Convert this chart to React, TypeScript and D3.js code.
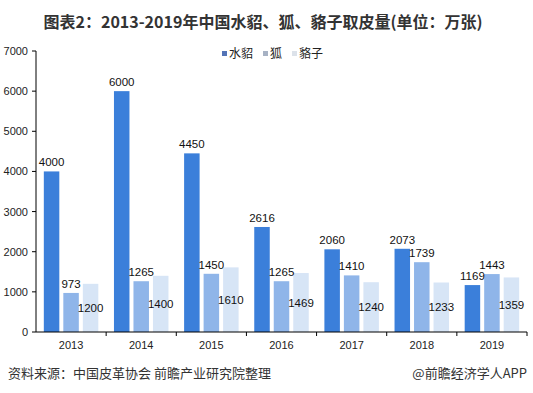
import React from "react";
import * as d3 from "d3";

const years = ["2013", "2014", "2015", "2016", "2017", "2018", "2019"];
const mink = [4000, 6000, 4450, 2616, 2060, 2073, 1169];
const fox = [973, 1265, 1450, 1265, 1410, 1739, 1443];
const raccoon = [1200, 1400, 1610, 1469, 1240, 1233, 1359];
const seriesNames = ["水貂", "狐", "貉子"];
const yTicks = [0, 1000, 2000, 3000, 4000, 5000, 6000, 7000];

const W = 533;
const H = 393;
const left = 36;
const right = 527;
const top = 51;
const bottom = 332;
const barColors = ["#3B7FDA", "#8FB5E9", "#D7E5F6"];
const legendColors = ["#5474B6", "#A7B2C4", "#DCE2EA"];
const numFont = "'Liberation Sans', Arial, sans-serif";
const cjkFont = "'Noto Sans CJK SC', 'Microsoft YaHei', sans-serif";

export default function App() {
  const x = d3.scaleBand<string>().domain(years).range([left, right]);
  const y = d3.scaleLinear().domain([0, 7000]).range([bottom, top]);
  const bw = 15.5;
  const off = [-19.5, 0, 19.5];
  const series = [mink, fox, raccoon];

  return (
    <svg width={W} height={H} style={{ position: "absolute", left: 0, top: 0, background: "#fff" }}>
      <text x={263} y={28} textAnchor="middle" fontFamily={cjkFont} fontWeight="bold" fontSize={16} fill="#333">
        图表2：2013-2019年中国水貂、狐、貉子取皮量(单位：万张)
      </text>
      {/* legend */}
      {seriesNames.map((n, i) => {
        const lx = [222, 263, 292][i];
        return (
          <g key={n}>
            <rect x={lx} y={51} width={5} height={5} fill={legendColors[i]} />
            <text x={lx + 7} y={58} fontFamily={cjkFont} fontSize={12} fill="#222">{n}</text>
          </g>
        );
      })}
      {/* bars */}
      {series.map((vals, si) =>
        vals.map((v, i) => {
          const cx = (x(years[i]) as number) + x.bandwidth() / 2 + off[si];
          return (
            <rect key={si + "-" + i} x={cx - bw / 2} y={y(v)} width={bw} height={bottom - y(v)} fill={barColors[si]} />
          );
        })
      )}
      {/* labels */}
      {series.map((vals, si) =>
        vals.map((v, i) => {
          const cx = (x(years[i]) as number) + x.bandwidth() / 2 + off[si];
          const ly = si === 2 ? (y(v) + bottom) / 2 + 4 : y(v) - 5;
          return (
            <text key={"l" + si + "-" + i} x={cx} y={ly} textAnchor="middle" fontFamily={numFont} fontSize={11.5} fill="#111">
              {v}
            </text>
          );
        })
      )}
      {/* y axis */}
      <line x1={left} x2={left} y1={top} y2={bottom} stroke="#000" strokeWidth={1} />
      {yTicks.map((t) => (
        <g key={t}>
          <line x1={left - 4} x2={left} y1={y(t)} y2={y(t)} stroke="#000" />
          <text x={left - 8} y={y(t) + 4} textAnchor="end" fontFamily={numFont} fontSize={11} fill="#222">{t}</text>
        </g>
      ))}
      {/* x axis */}
      <line x1={left} x2={right} y1={bottom} y2={bottom} stroke="#000" />
      {years.map((yr, i) => (
        <g key={yr}>
          <line x1={(x(yr) as number) + x.bandwidth()} x2={(x(yr) as number) + x.bandwidth()} y1={bottom} y2={bottom + 4} stroke="#000" />
          <text x={(x(yr) as number) + x.bandwidth() / 2} y={349} textAnchor="middle" fontFamily={numFont} fontSize={11} fill="#222">{yr}</text>
        </g>
      ))}
      {/* footer */}
      <text x={8} y={378} fontFamily={cjkFont} fontSize={13} fill="#333">资料来源：中国皮革协会 前瞻产业研究院整理</text>
      <text x={527} y={378} textAnchor="end" fontFamily={cjkFont} fontSize={13} fill="#333">@前瞻经济学人APP</text>
    </svg>
  );
}
